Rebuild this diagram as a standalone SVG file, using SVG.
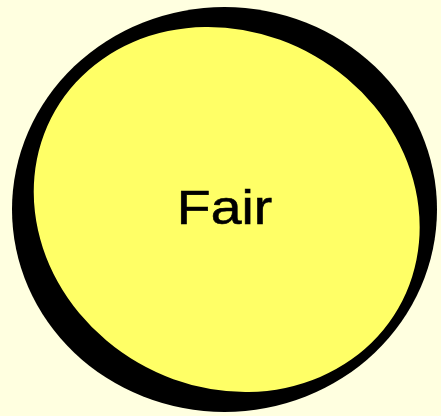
<svg xmlns="http://www.w3.org/2000/svg" width="441" height="416" viewBox="0 0 441 416">
  <style>
    .shadow { fill: #000000; }
    .body { fill: #ffff66; }
    .label { font-family: "Liberation Sans", Arial, sans-serif; font-size: 49px; fill: #000000; stroke: #000000; stroke-width: 0.6px; }
  </style>
  <rect x="0" y="0" width="441" height="416" fill="#ffffe0"/>
  <g id="connectors"></g>
  <g id="node-fair">
    <ellipse class="shadow" cx="224.5" cy="209.5" rx="212.5" ry="202.5"/>
    <ellipse class="body" cx="226.7" cy="209.5" rx="198" ry="177" transform="rotate(30 226.7 209.5)"/>
    <text class="label" x="0" y="0" text-anchor="middle" transform="translate(224.5 223.5) scale(1.13 1)">Fair</text>
  </g>
</svg>
